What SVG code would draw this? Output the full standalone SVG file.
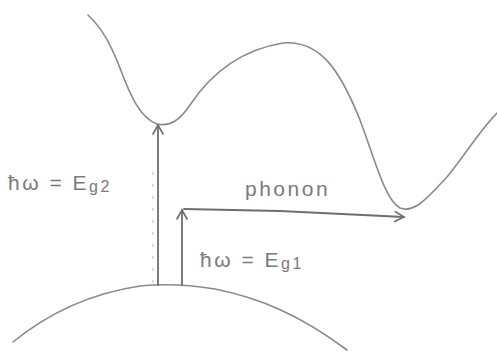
<svg xmlns="http://www.w3.org/2000/svg" width="497" height="354" viewBox="0 0 497 354">
<style>
.c{fill:none;stroke:#8a8a8a;stroke-width:1.6;stroke-linecap:round;stroke-linejoin:round}
.a{fill:none;stroke:#6e6e6e;stroke-width:1.8;stroke-linecap:round}
.d{fill:none;stroke:#c8c8c8;stroke-width:1.2;stroke-dasharray:3 9}
.t{font-family:"Liberation Sans",Arial,sans-serif;fill:#7a7a7a;font-size:21px;letter-spacing:2.5px}
</style>
<defs>
<marker id="ah" viewBox="0 0 12 12" refX="10" refY="6" markerWidth="12" markerHeight="12" markerUnits="userSpaceOnUse" orient="auto">
<path d="M1,1 L10,6 L1,11" fill="none" stroke="#6e6e6e" stroke-width="1.6" stroke-linecap="round"/>
</marker>
</defs>
<g id="conduction-band">
<path class="c" d="M88,15 C104,30 112,48 120,68 C130,95 140,118 157,124 C170,127 180,120 190,105 C210,75 240,50 283,43 C320,40 340,70 360,120 C375,160 385,200 400,208 C415,214 430,195 447,177 C465,155 480,130 497,113"/>
</g>
<g id="valence-band">
<path class="c" d="M13,342 C40,320 80,295 140,286 C160,284 185,284 215,289 C260,298 300,315 347,350"/>
</g>
<g id="connectors">
<line class="d" x1="153" y1="172" x2="153" y2="283"/>
<line class="a" x1="158" y1="285" x2="158" y2="125" marker-end="url(#ah)"/>
<line class="a" x1="182" y1="285" x2="182" y2="210" marker-end="url(#ah)"/>
<path class="a" d="M184,209 L280,211 L404,217" marker-end="url(#ah)"/>
</g>
<g id="label-eg2">
<text class="t" x="8" y="190">ħω = E<tspan font-size="16" dy="2">g2</tspan></text>
</g>
<g id="label-phonon">
<text class="t" x="245" y="196">phonon</text>
</g>
<g id="label-eg1">
<text class="t" x="200" y="267">ħω = E<tspan font-size="16" dy="2">g1</tspan></text>
</g>
</svg>
